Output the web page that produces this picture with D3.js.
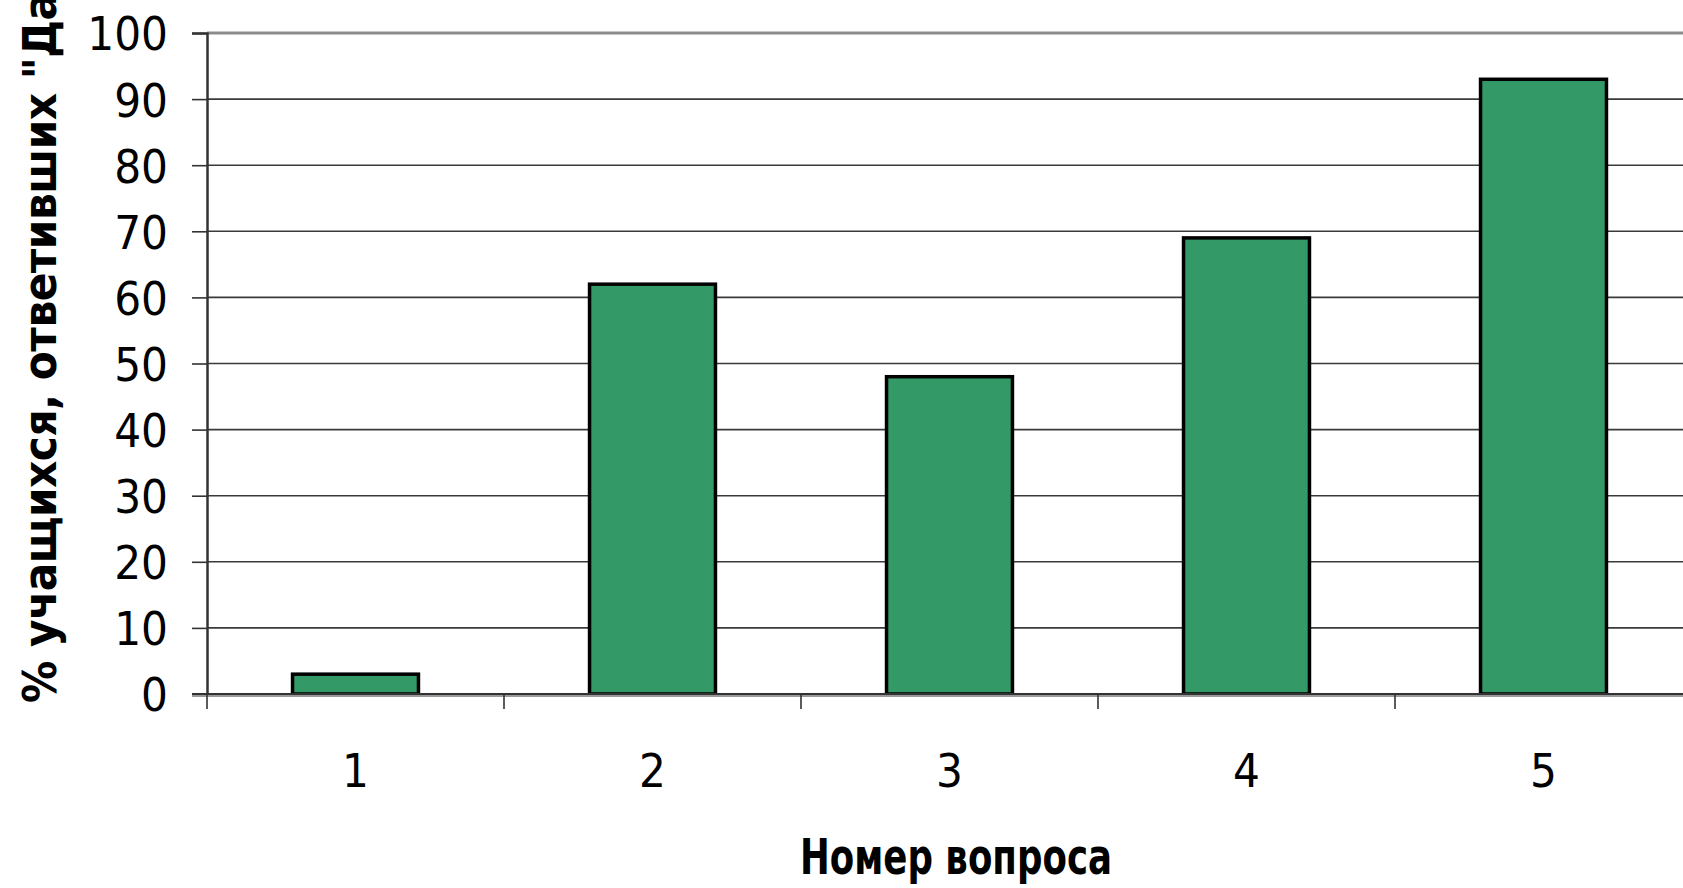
<!DOCTYPE html>
<html>
<head>
<meta charset="utf-8">
<script src="https://cdn.jsdelivr.net/npm/d3@7.9.0/dist/d3.min.js"></script>
<style>
  html, body { margin: 0; padding: 0; background: #fff; overflow: hidden; }
  svg { display: block; }
</style>
</head>
<body>
<svg id="chart" width="1683" height="888"></svg>
<script>
// data
const questions = ['1', '2', '3', '4', '5'];
const yesPercent = [3, 62, 48, 69, 93];
const yTicks = [0, 10, 20, 30, 40, 50, 60, 70, 80, 90, 100];
const xTitle = 'Номер вопроса';
const yTitle = '% учащихся, ответивших "Да"';

const svg = d3.select('#chart');
const plotLeft = 207, plotRight = 1692, plotTop = 33, plotBottom = 694;
const tickFont = '"DejaVu Sans Condensed", "DejaVu Sans", sans-serif';

let x = d3.scaleBand()
    .domain(questions)
    .range([plotLeft, plotRight])
    .paddingInner(0.576)
    .paddingOuter(0.288);

let y = d3.scaleLinear().domain([0, 100]).range([plotBottom, plotTop]);

// grid lines
svg.append('g')
    .selectAll('line')
    .data(yTicks.filter(t => t > 0 && t < 100))
    .join('line')
    .attr('x1', plotLeft).attr('x2', plotRight)
    .attr('y1', d => y(d)).attr('y2', d => y(d))
    .attr('stroke', '#3a3a3a')
    .attr('stroke-width', 1.6);

// top border of plot area
svg.append('line')
    .attr('x1', plotLeft).attr('x2', plotRight)
    .attr('y1', y(100)).attr('y2', y(100))
    .attr('stroke', '#8c8c8c')
    .attr('stroke-width', 3);

// bars
svg.append('g')
    .selectAll('rect')
    .data(yesPercent)
    .join('rect')
    .attr('x', (d, i) => x(questions[i]))
    .attr('y', d => y(d))
    .attr('width', x.bandwidth())
    .attr('height', d => y(0) - y(d))
    .attr('fill', '#339966')
    .attr('stroke', '#000')
    .attr('stroke-width', 3.5);

// y axis
let yAxis = d3.axisLeft(y).tickValues(yTicks).tickSize(15).tickPadding(24);
let gy = svg.append('g').attr('transform', `translate(${plotLeft},0)`).call(yAxis);
gy.select('.domain').attr('stroke', '#333').attr('stroke-width', 2.5);
gy.selectAll('.tick line').attr('stroke', '#333').attr('stroke-width', 1.6);
gy.selectAll('.tick text')
    .attr('font-family', tickFont)
    .attr('font-size', 47)
    .attr('fill', '#000')
    .attr('dy', '0.36em');

// x axis: ticks between categories
let xEdges = d3.scaleLinear().domain([0, questions.length]).range([plotLeft, plotRight]);
let gx = svg.append('g');
gx.append('line')
    .attr('x1', plotLeft - 15).attr('x2', plotRight)
    .attr('y1', plotBottom + 1.5).attr('y2', plotBottom + 1.5)
    .attr('stroke', '#999').attr('stroke-width', 3);
gx.append('line')
    .attr('x1', plotLeft - 15).attr('x2', plotRight)
    .attr('y1', plotBottom).attr('y2', plotBottom)
    .attr('stroke', '#333').attr('stroke-width', 2);
gx.selectAll('line.xt')
    .data(d3.range(questions.length + 1))
    .join('line')
    .attr('class', 'xt')
    .attr('x1', d => xEdges(d)).attr('x2', d => xEdges(d))
    .attr('y1', plotBottom).attr('y2', plotBottom + 15)
    .attr('stroke', '#333').attr('stroke-width', 1.6);
gx.selectAll('text')
    .data(questions)
    .join('text')
    .attr('x', d => x(d) + x.bandwidth() / 2)
    .attr('y', 787)
    .attr('text-anchor', 'middle')
    .attr('font-family', tickFont)
    .attr('font-size', 47)
    .text(d => d);

// axis titles
svg.append('text')
    .attr('x', 956)
    .attr('y', 874)
    .attr('text-anchor', 'middle')
    .attr('font-family', '"DejaVu Sans Condensed", "DejaVu Sans", sans-serif')
    .attr('font-weight', 'bold')
    .attr('font-size', 50)
    .attr('textLength', 312)
    .attr('lengthAdjust', 'spacingAndGlyphs')
    .text(xTitle);

svg.append('text')
    .attr('transform', 'translate(56,703) rotate(-90)')
    .attr('text-anchor', 'start')
    .attr('font-family', '"DejaVu Sans Condensed", "DejaVu Sans", sans-serif')
    .attr('font-weight', 'bold')
    .attr('font-size', 47)
    .attr('letter-spacing', -0.5)
    .text(yTitle);
</script>
</body>
</html>
